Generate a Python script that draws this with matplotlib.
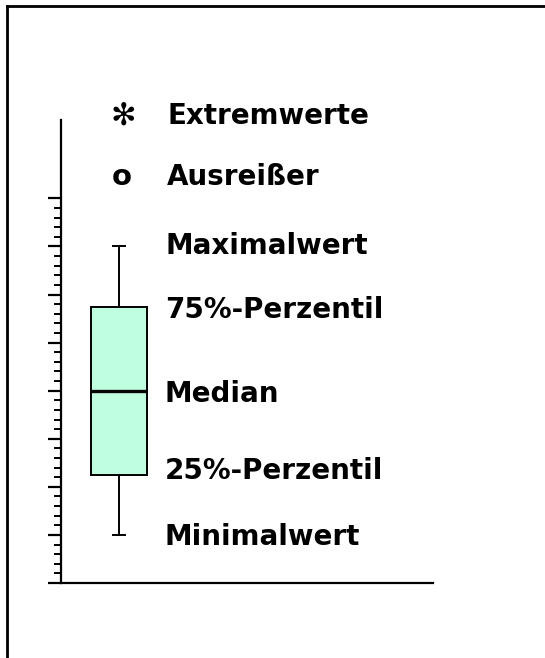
import matplotlib
matplotlib.use('Agg')
import matplotlib.pyplot as plt
from matplotlib.lines import Line2D

# box statistics (axis units)
box_min = 1.0
box_q1 = 2.25
box_median = 4.0
box_q3 = 5.75
box_max = 7.0
outlier_y = 8.45
extreme_y = 9.72

labels = ['Extremwerte', 'Ausreißer', 'Maximalwert', '75%-Perzentil',
          'Median', '25%-Perzentil', 'Minimalwert']
label_y = [9.71, 8.44, 7.0, 5.68, 3.93, 2.33, 0.96]
label_x = [1.83, 1.83, 1.8, 1.8, 1.78, 1.78, 1.78]

fig = plt.figure(figsize=(5.45, 6.58), dpi=100)
ax = fig.add_axes([61 / 545, 75 / 658, 372 / 545, 463 / 658])

stats = [dict(whislo=box_min, q1=box_q1, med=box_median, q3=box_q3,
              whishi=box_max, fliers=[])]
ax.bxp(stats, positions=[1], widths=0.97, capwidths=0.22, patch_artist=True,
       boxprops=dict(facecolor='#bfffdf', edgecolor='black', linewidth=1.4),
       medianprops=dict(color='black', linewidth=2.4),
       whiskerprops=dict(color='black', linewidth=1.4),
       capprops=dict(color='black', linewidth=1.4))

ax.text(1.05, outlier_y, 'o', fontsize=21, fontweight='bold',
        ha='center', va='center')
ax.text(1.07, extreme_y, '✻', fontsize=22, ha='center', va='center',
        clip_on=False)

for txt, x, y in zip(labels, label_x, label_y):
    ax.text(x, y, txt, fontsize=20, fontweight='bold', ha='left',
            va='center', clip_on=False)

ax.set_xlim(0, 6.41)
ax.set_ylim(0, 9.63)
ax.set_yticks(range(0, 9))
ax.set_yticks([v * 0.2 for v in range(41) if v % 5], minor=True)
ax.set_xticks([])
ax.tick_params(axis='y', which='major', direction='out', length=9.5,
               width=1.6, labelleft=False)
ax.tick_params(axis='y', which='minor', direction='out', length=5,
               width=1.4)
for side in ['top', 'right']:
    ax.spines[side].set_visible(False)
ax.spines['left'].set_linewidth(1.6)
ax.spines['bottom'].set_linewidth(1.6)

# outer frame (only top and left edges visible)
fig.add_artist(Line2D([7 / 545, 1], [1 - 6 / 658, 1 - 6 / 658],
                      transform=fig.transFigure, color='black', linewidth=2))
fig.add_artist(Line2D([7 / 545, 7 / 545], [0, 1 - 6 / 658],
                      transform=fig.transFigure, color='black', linewidth=2))

fig.savefig('out.png', dpi=100)
